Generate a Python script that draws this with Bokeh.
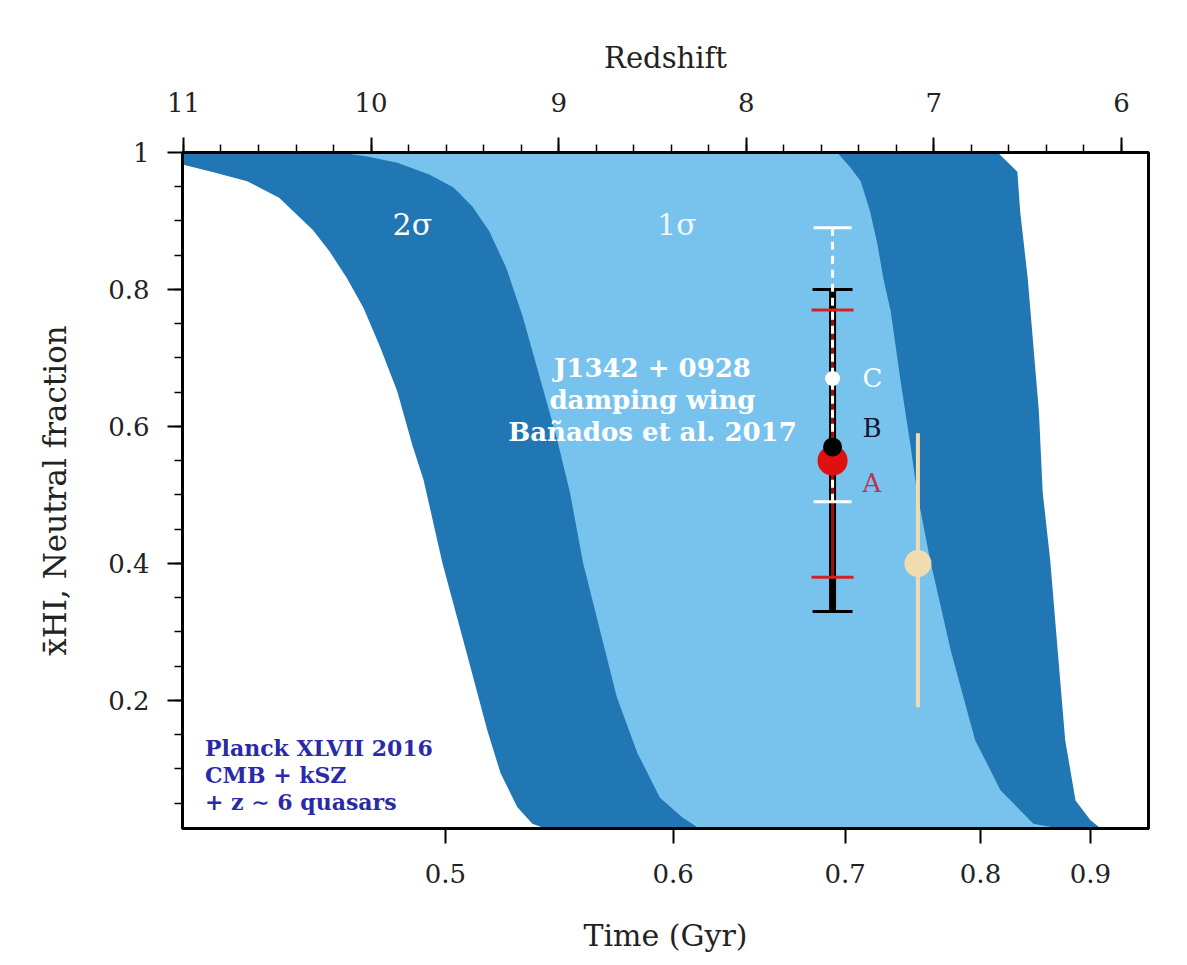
from bokeh.plotting import figure
from bokeh.models import Range1d, LinearAxis, FixedTicker, Label
from bokeh.embed import file_html
from bokeh.resources import INLINE

# ---- axis definitions -------------------------------------------------------
# Cosmic time from redshift in the matter era: (1 + z) = Z_T_NORM * t^(-2/3)
Z_T_NORM = 6.68

redshift_ticks = [11, 10, 9, 8, 7, 6]
redshift_minor = [round(6.0 + 0.2 * i, 1) for i in range(-1, 27)]
time_ticks = [0.5, 0.6, 0.7, 0.8, 0.9]
time_labels = ["0.5", "0.6", "0.7", "0.8", "0.9"]
xhi_ticks = [0.2, 0.4, 0.6, 0.8, 1.0]
xhi_labels = ["0.2", "0.4", "0.6", "0.8", "1"]
xhi_minor = [round(0.05 * i, 2) for i in range(1, 20)]

# ---- Planck XLVII 2016 reionization history bands ---------------------------
# each edge listed from the top (neutral) down to the bottom (ionized)
band2_highz_z = [11.40, 11.18, 11.00, 10.84, 10.66, 10.49, 10.31, 10.22, 10.13,
                 10.04, 9.95, 9.86, 9.78, 9.72, 9.62, 9.49, 9.38, 9.31, 9.22,
                 9.14, 9.07]
band2_highz_x = [0.995, 0.990, 0.982, 0.971, 0.958, 0.934, 0.887, 0.855, 0.817,
                 0.773, 0.715, 0.651, 0.573, 0.522, 0.401, 0.269, 0.156, 0.094,
                 0.044, 0.020, 0.013]
band2_lowz_z = [6.66, 6.555, 6.54, 6.50, 6.47, 6.44, 6.42, 6.38, 6.34, 6.30,
                6.245, 6.165, 6.11]
band2_lowz_x = [1.0, 0.972, 0.914, 0.817, 0.719, 0.621, 0.504, 0.405, 0.273,
                0.142, 0.054, 0.025, 0.013]

band1_highz_z = [10.17, 10.02, 9.86, 9.69, 9.56, 9.46, 9.37, 9.28, 9.19, 9.10,
                 9.01, 8.94, 8.87, 8.78, 8.69, 8.58, 8.46, 8.34, 8.25]
band1_highz_x = [1.0, 0.994, 0.985, 0.968, 0.949, 0.921, 0.885, 0.832, 0.759,
                 0.671, 0.583, 0.504, 0.401, 0.303, 0.205, 0.123, 0.058, 0.029,
                 0.013]
band1_lowz_z = [7.515, 7.445, 7.39, 7.34, 7.30, 7.27, 7.23, 7.18, 7.125, 7.09,
                7.02, 6.91, 6.78, 6.645, 6.47, 6.33]
band1_lowz_x = [1.0, 0.978, 0.958, 0.914, 0.865, 0.817, 0.768, 0.671, 0.573,
                0.504, 0.405, 0.273, 0.142, 0.069, 0.020, 0.013]

# ---- quasar damping-wing constraints ----------------------------------------
j1342_z = 7.54
model_names = ["A", "B", "C"]
model_xhi = [0.55, 0.57, 0.67]
model_lo = [0.38, 0.33, 0.49]
model_hi = [0.77, 0.80, 0.89]

j1120_z = 7.085
j1120_xhi = 0.40
j1120_lo = 0.19
j1120_hi = 0.59

SERIF = "DejaVu Serif"
DARK = "#2077b4"
LIGHT = "#78c3ee"
INK = "#222222"


def band_polygon(hz, hx, lz, lx):
    xs = [hz[-1]] + hz[::-1] + [hz[0]] + lz + [lz[-1]]
    ys = [0.0] + hx[::-1] + [1.0] + lx + [0.0]
    return xs, ys


p = figure(width=1187, height=965,
           x_range=Range1d(11.005, 5.856), y_range=Range1d(0.013, 1.0),
           x_axis_location=None, y_axis_location=None,
           output_backend="svg", toolbar_location=None,
           min_border_left=182, min_border_right=39,
           min_border_top=152, min_border_bottom=137)
p.grid.visible = False
p.background_fill_color = "white"
p.border_fill_color = "white"
p.outline_line_color = "black"
p.outline_line_width = 3


def style_axis(ax, minor=True):
    ax.axis_line_width = 3
    ax.axis_line_color = "black"
    ax.major_tick_line_width = 2
    ax.major_tick_in = 0
    ax.major_tick_out = 15
    if minor:
        ax.minor_tick_line_width = 1.5
        ax.minor_tick_in = 0
        ax.minor_tick_out = 8
    else:
        ax.minor_tick_line_color = None
    ax.major_label_text_font = SERIF
    ax.major_label_text_font_size = "26px"
    ax.major_label_text_color = INK
    ax.axis_label_text_font = SERIF
    ax.axis_label_text_font_style = "normal"
    ax.axis_label_text_font_size = "29px"
    ax.axis_label_text_color = INK


# top: redshift
top_ax = LinearAxis(ticker=FixedTicker(ticks=redshift_ticks, minor_ticks=redshift_minor),
                    axis_label="Redshift")
style_axis(top_ax)
top_ax.major_label_standoff = 26
top_ax.axis_label_standoff = 15
p.add_layout(top_ax, "above")

# bottom: cosmic time, placed at the matching redshift
time_z = [round(Z_T_NORM * t ** (-2.0 / 3.0) - 1.0, 6) for t in time_ticks]
bot_ax = LinearAxis(ticker=FixedTicker(ticks=time_z, minor_ticks=[]),
                    major_label_overrides=dict(zip(time_z, time_labels)),
                    axis_label="Time (Gyr)")
style_axis(bot_ax, minor=False)
bot_ax.axis_label_text_font_size = "30px"
bot_ax.major_label_standoff = 20
bot_ax.axis_label_standoff = 32
p.add_layout(bot_ax, "below")

# left: neutral fraction
left_ax = LinearAxis(ticker=FixedTicker(ticks=xhi_ticks, minor_ticks=xhi_minor),
                     major_label_overrides=dict(zip(xhi_ticks, xhi_labels)),
                     axis_label="x\u0304HI, Neutral fraction")
style_axis(left_ax)
left_ax.major_label_standoff = 18
left_ax.axis_label_standoff = 32
left_ax.axis_label_text_font_size = "31px"
p.add_layout(left_ax, "left")

# ---- bands -------------------------------------------------------------------
xs2, ys2 = band_polygon(band2_highz_z, band2_highz_x, band2_lowz_z, band2_lowz_x)
p.patch(xs2, ys2, fill_color=DARK, line_color=None)
xs1, ys1 = band_polygon(band1_highz_z, band1_highz_x, band1_lowz_z, band1_lowz_x)
p.patch(xs1, ys1, fill_color=LIGHT, line_color=None)

# ---- ULAS J1120+0641 --------------------------------------------------------
p.segment(x0=[j1120_z], y0=[j1120_lo], x1=[j1120_z], y1=[j1120_hi],
          line_color="#f0dcb0", line_width=4)
p.scatter([j1120_z], [j1120_xhi], size=27, marker="circle",
          fill_color="#f0dcb0", line_color=None)

# ---- J1342+0928 models A, B, C ---------------------------------------------
iA, iB, iC = 0, 1, 2
# B (black)
p.segment(x0=[j1342_z], y0=[model_lo[iB]], x1=[j1342_z], y1=[model_hi[iB]],
          line_color="black", line_width=7)
p.scatter([j1342_z, j1342_z], [model_lo[iB], model_hi[iB]], marker="dash",
          size=40, line_color="black", line_width=3)
# A (red)
p.segment(x0=[j1342_z], y0=[model_lo[iA]], x1=[j1342_z], y1=[model_hi[iA]],
          line_color="#a01010", line_width=3)
p.scatter([j1342_z, j1342_z], [model_lo[iA], model_hi[iA]], marker="dash",
          size=42, line_color="#d42222", line_width=3)
# C (white, dashed)
p.segment(x0=[j1342_z], y0=[model_lo[iC]], x1=[j1342_z], y1=[model_hi[iC]],
          line_color="white", line_width=3, line_dash="8 6")
p.scatter([j1342_z, j1342_z], [model_lo[iC], model_hi[iC]], marker="dash",
          size=38, line_color="white", line_width=3)

p.scatter([j1342_z], [model_xhi[iA]], size=30, marker="circle",
          fill_color="#e01010", line_color=None)
p.scatter([j1342_z], [model_xhi[iB]], size=19, marker="circle",
          fill_color="black", line_color=None)
p.scatter([j1342_z], [model_xhi[iC]], size=15, marker="circle",
          fill_color="white", line_color=None)

# model letters
letter_colors = ["#c23050", "#141432", "white"]
letter_y = [0.518, 0.598, 0.671]
for name, col, ly in zip(model_names, letter_colors, letter_y):
    p.add_layout(Label(x=7.38, y=ly, text=name, text_align="left",
                       text_baseline="middle", text_color=col,
                       text_font=SERIF, text_font_size="26px"))

# ---- annotations -----------------------------------------------------------
p.add_layout(Label(x=9.78, y=0.895, text="2σ", text_align="center",
                   text_baseline="middle", text_color="white",
                   text_font=SERIF, text_font_size="30px"))
p.add_layout(Label(x=8.37, y=0.895, text="1σ", text_align="center",
                   text_baseline="middle", text_color="#eef6fc",
                   text_font=SERIF, text_font_size="30px"))

for txt, ly in [("J1342 + 0928", 0.686), ("damping wing", 0.639),
                ("Bañados et al. 2017", 0.592)]:
    p.add_layout(Label(x=8.50, y=ly, text=txt, text_align="center",
                       text_baseline="middle", text_color="white",
                       text_font=SERIF, text_font_size="26px",
                       text_font_style="bold"))

for txt, ly in [("Planck XLVII 2016", 0.130), ("CMB  +  kSZ", 0.091),
                ("+ z ∼ 6 quasars", 0.051)]:
    p.add_layout(Label(x=10.885, y=ly, text=txt, text_align="left",
                       text_baseline="middle", text_color="#2a2aa8",
                       text_font=SERIF, text_font_size="22px",
                       text_font_style="bold"))

open("out.html", "w").write(file_html(p, INLINE))
